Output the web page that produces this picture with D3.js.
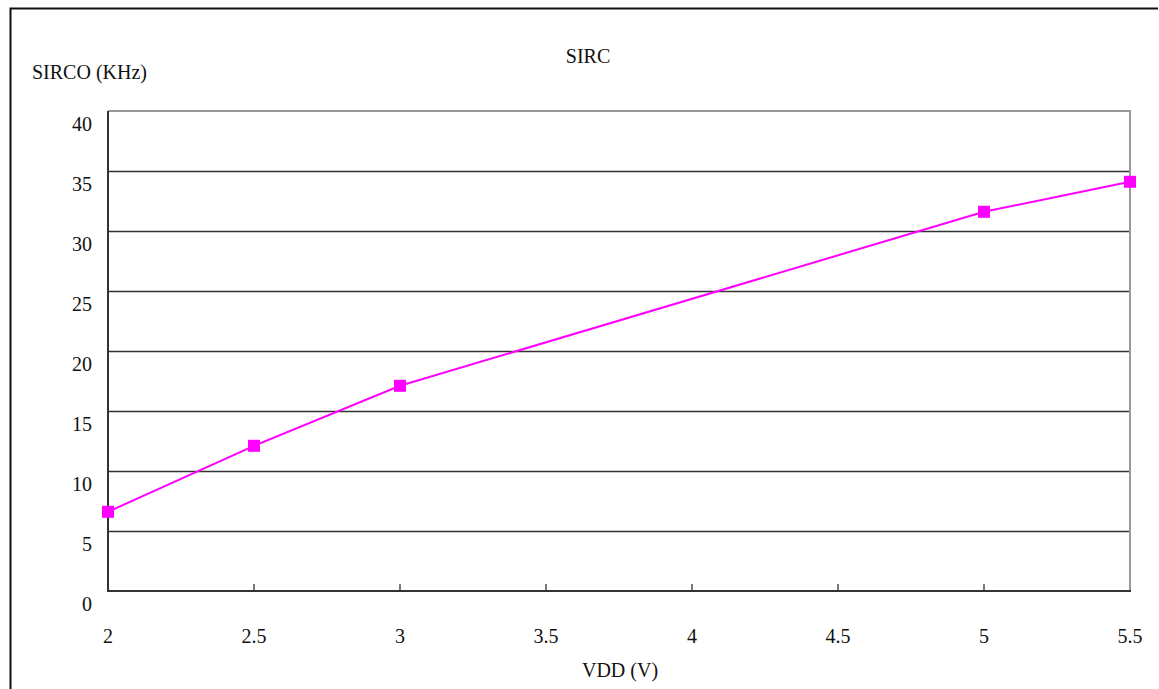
<!DOCTYPE html>
<html>
<head>
<meta charset="utf-8">
<script src="https://cdn.jsdelivr.net/npm/d3@7/dist/d3.min.js"></script>
<style>
  html, body { margin: 0; padding: 0; background: #fff; }
</style>
</head>
<body>
<svg id="chart" width="1159" height="689"></svg>
<script>
// SIRC oscillator frequency vs supply voltage
const vddValues = [2, 2.5, 3, 5, 5.5];
const sircoKHz = [6.6, 12.1, 17.1, 31.6, 34.1];
const xTicks = [2, 2.5, 3, 3.5, 4, 4.5, 5, 5.5];
const yTicks = [0, 5, 10, 15, 20, 25, 30, 35, 40];

const FONT = "'Liberation Serif', 'Times New Roman', Times, 'DejaVu Serif', serif";

const svg = d3.select("#chart")
  .style("font-family", FONT);
const plot = { left: 108, right: 1130, top: 111, bottom: 591 };

const x = d3.scaleLinear().domain([2, 5.5]).range([plot.left, plot.right]);
const y = d3.scaleLinear().domain([0, 40]).range([plot.bottom, plot.top]);

function label(sel) {
  return sel.style("font-family", FONT).style("font-size", "20px").attr("fill", "#111");
}

// outer frame (top and left edges)
svg.append("path")
  .attr("d", "M10.5,689 V8.5 H1158")
  .attr("fill", "none").attr("stroke", "#111").attr("stroke-width", 2);

// horizontal gridlines
svg.append("g").selectAll("line")
  .data(yTicks.filter(t => t > 0 && t < 40))
  .join("line")
  .attr("x1", plot.left).attr("x2", plot.right)
  .attr("y1", d => Math.round(y(d)) + 0.5).attr("y2", d => Math.round(y(d)) + 0.5)
  .attr("stroke", "#333").attr("stroke-width", 1.3);

// plot area border: light top/right, dark left/bottom axes
svg.append("line")
  .attr("x1", plot.left).attr("x2", plot.right + 1)
  .attr("y1", plot.top).attr("y2", plot.top)
  .attr("stroke", "#999").attr("stroke-width", 2);
svg.append("line")
  .attr("x1", plot.right).attr("x2", plot.right)
  .attr("y1", plot.top).attr("y2", plot.bottom)
  .attr("stroke", "#999").attr("stroke-width", 2);
svg.append("line")
  .attr("x1", plot.left).attr("x2", plot.left)
  .attr("y1", plot.top).attr("y2", plot.bottom + 1)
  .attr("stroke", "#333").attr("stroke-width", 2);
svg.append("line")
  .attr("x1", plot.left - 1).attr("x2", plot.right + 1)
  .attr("y1", plot.bottom).attr("y2", plot.bottom)
  .attr("stroke", "#333").attr("stroke-width", 2);

// x tick marks (inward)
svg.append("g").selectAll("line")
  .data(xTicks.slice(1, -1))
  .join("line")
  .attr("x1", d => x(d)).attr("x2", d => x(d))
  .attr("y1", plot.bottom - 7).attr("y2", plot.bottom)
  .attr("stroke", "#333").attr("stroke-width", 1.3);

// y tick labels (drawn below their gridlines)
svg.append("g").selectAll("text")
  .data(yTicks)
  .join("text")
  .call(label)
  .attr("x", 92)
  .attr("y", d => y(d) + 13)
  .attr("dy", "0.35em")
  .attr("text-anchor", "end")
  .text(d => d);

// x tick labels
svg.append("g").selectAll("text")
  .data(xTicks)
  .join("text")
  .call(label)
  .attr("x", d => x(d))
  .attr("y", 636)
  .attr("dy", "0.35em")
  .attr("text-anchor", "middle")
  .text(d => d);

// titles
svg.append("text").call(label).attr("x", 588).attr("y", 56).attr("dy", "0.35em")
  .attr("text-anchor", "middle").text("SIRC");
svg.append("text").call(label).attr("x", 32).attr("y", 72).attr("dy", "0.35em")
  .text("SIRCO (KHz)");
svg.append("text").call(label).attr("x", 620).attr("y", 670).attr("dy", "0.35em")
  .attr("text-anchor", "middle").text("VDD (V)");

// data series
const pts = vddValues.map((v, i) => [v, sircoKHz[i]]);
svg.append("path")
  .datum(pts)
  .attr("d", d3.line().x(d => x(d[0])).y(d => y(d[1])))
  .attr("fill", "none").attr("stroke", "#ff00ff").attr("stroke-width", 2);

const m = 12;
svg.append("g").selectAll("rect")
  .data(pts)
  .join("rect")
  .attr("x", d => x(d[0]) - m / 2)
  .attr("y", d => y(d[1]) - m / 2)
  .attr("width", m).attr("height", m)
  .attr("fill", "#ff00ff");
</script>
</body>
</html>
